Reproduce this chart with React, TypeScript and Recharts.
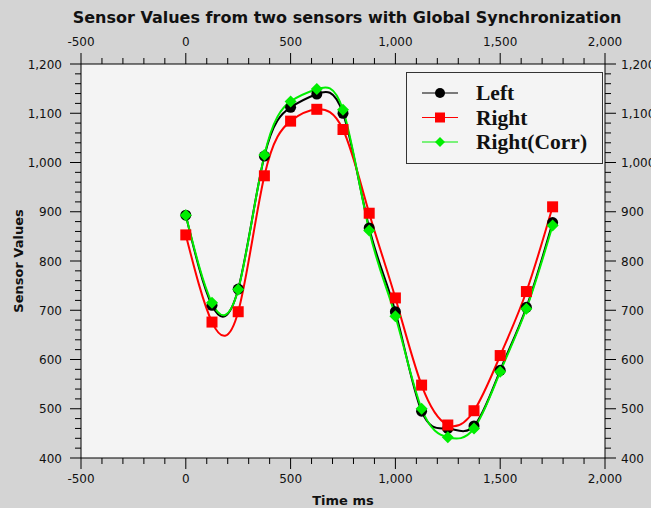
import React from 'react'
import { LineChart, Line, XAxis, YAxis, CartesianGrid, Legend, Label } from 'recharts'

// sample times (ms) and sensor readings
const times = [0, 125, 250, 375, 500, 625, 750, 875, 1000, 1125, 1250, 1375, 1500, 1625, 1750]
const leftValues = [893, 710, 743, 1013, 1112, 1139, 1100, 867, 697, 495, 460, 465, 578, 706, 878]
const rightValues = [853, 676, 697, 973, 1084, 1108, 1067, 897, 725, 548, 467, 496, 608, 738, 910]
const rightCorrValues = [893, 715, 742, 1015, 1124, 1149, 1107, 862, 688, 500, 442, 460, 575, 703, 872]

const xMajorTicks = [-500, 0, 500, 1000, 1500, 2000]
const yMajorTicks = [400, 500, 600, 700, 800, 900, 1000, 1100, 1200]

// minor ticks: 4 between each pair of majors
const withMinor = (majors: number[]) => {
  const out: number[] = []
  for (let i = 0; i < majors.length - 1; i++) {
    const step = (majors[i + 1] - majors[i]) / 5
    for (let k = 0; k < 5; k++) out.push(majors[i] + k * step)
  }
  out.push(majors[majors.length - 1])
  return out
}
const xTicks = withMinor(xMajorTicks)
const yTicks = withMinor(yMajorTicks)

const data = times.map((t, i) => ({
  t,
  left: leftValues[i],
  right: rightValues[i],
  corr: rightCorrValues[i],
}))

const BG = '#d4d4d4'
const PLOT_BG = '#f4f4f4'
const TICK_FONT = '"DejaVu Sans", sans-serif'

const fmt = (v: number) => v.toLocaleString('en-US')

const AxisTick = ({ x, y, payload, side }: any) => {
  const v = payload.value as number
  const major = side === 'top' || side === 'bottom' ? xMajorTicks.includes(v) : yMajorTicks.includes(v)
  const len = major ? 11 : 6
  let line, text = null
  const textProps = { fontSize: 12, fontFamily: TICK_FONT, fill: '#111' }
  if (side === 'bottom') {
    line = <line x1={x} x2={x} y1={y} y2={y + len} stroke="#000" />
    if (major) text = <text x={x} y={y + 25} textAnchor="middle" {...textProps}>{fmt(v)}</text>
  } else if (side === 'top') {
    line = <line x1={x} x2={x} y1={y} y2={y - len} stroke="#000" />
    if (major) text = <text x={x} y={y - 18} textAnchor="middle" {...textProps}>{fmt(v)}</text>
  } else if (side === 'left') {
    line = <line x1={x} x2={x - len} y1={y} y2={y} stroke="#000" />
    if (major) text = <text x={x - 19} y={y + 4.5} textAnchor="end" {...textProps}>{fmt(v)}</text>
  } else {
    line = <line x1={x} x2={x + len} y1={y} y2={y} stroke="#000" />
    if (major) text = <text x={x + 16} y={y + 4.5} textAnchor="start" {...textProps}>{fmt(v)}</text>
  }
  return <g>{line}{text}</g>
}

const CircleDot = ({ cx, cy, index }: any) => (
  <circle key={index} cx={cx} cy={cy} r={5.5} fill="#000" />
)
const SquareDot = ({ cx, cy, index }: any) => (
  <rect key={index} x={cx - 5.5} y={cy - 5.5} width={11} height={11} fill="#ff0000" />
)
const DiamondDot = ({ cx, cy, index }: any) => (
  <path key={index} d={`M${cx} ${cy - 6}L${cx + 6} ${cy}L${cx} ${cy + 6}L${cx - 6} ${cy}Z`} fill="#00ee00" />
)

const legendItems = [
  { name: 'Left', color: '#000', marker: 'circle' },
  { name: 'Right', color: '#ff0000', marker: 'square' },
  { name: 'Right(Corr)', color: '#00ee00', marker: 'diamond' },
]

const LegendBox = () => (
  <svg width={197} height={92} style={{ display: 'block' }}>
    <rect x={0.5} y={0.5} width={196} height={91} fill={PLOT_BG} stroke="#333" />
    {legendItems.map((it, i) => {
      const cy = 21 + i * 24.5
      const cx = 34
      let m
      if (it.marker === 'circle') m = <circle cx={cx} cy={cy} r={5} fill={it.color} />
      else if (it.marker === 'square') m = <rect x={cx - 5} y={cy - 5} width={10} height={10} fill={it.color} />
      else m = <path d={`M${cx} ${cy - 5}L${cx + 5} ${cy}L${cx} ${cy + 5}L${cx - 5} ${cy}Z`} fill={it.color} />
      return (
        <g key={it.name}>
          <line x1={16} x2={52} y1={cy} y2={cy} stroke={it.color} strokeWidth={1.2} />
          {m}
          <text x={70} y={cy + 7} fontFamily='"Liberation Serif", serif' fontWeight="bold" fontSize={21.5} fill="#111">
            {it.name}
          </text>
        </g>
      )
    })}
  </svg>
)

export default function App() {
  return (
    <div style={{ position: 'absolute', left: 0, top: 0, width: 651, height: 508, background: BG }}>
      <LineChart width={651} height={508} data={data} margin={{ top: 0, right: 0, bottom: 0, left: 0 }}>
        <CartesianGrid horizontal={false} vertical={false} fill={PLOT_BG} xAxisId="b" yAxisId="l" />
        <XAxis
          xAxisId="t" orientation="top" dataKey="t" type="number" domain={[-500, 2000]}
          ticks={xTicks} interval={0} height={64} tickSize={0} tickMargin={0} tickLine={false}
          axisLine={{ stroke: '#000' }} tick={<AxisTick side="top" />} allowDataOverflow
        >
          <Label
            content={() => (
              <text x={347} y={23} textAnchor="middle" fontFamily={TICK_FONT} fontWeight="bold" fontSize={16} fill="#111">
                Sensor Values from two sensors with Global Synchronization
              </text>
            )}
          />
        </XAxis>
        <XAxis
          xAxisId="b" orientation="bottom" dataKey="t" type="number" domain={[-500, 2000]}
          ticks={xTicks} interval={0} height={50} tickSize={0} tickMargin={0} tickLine={false}
          axisLine={{ stroke: '#000' }} tick={<AxisTick side="bottom" />} allowDataOverflow
        >
          <Label
            content={({ viewBox }: any) => (
              <text x={viewBox.x + viewBox.width / 2} y={viewBox.y + 47} textAnchor="middle" fontFamily={TICK_FONT} fontWeight="bold" fontSize={13} fill="#111">
                Time ms
              </text>
            )}
          />
        </XAxis>
        <YAxis
          yAxisId="l" orientation="left" type="number" domain={[400, 1200]}
          ticks={yTicks} interval={0} width={81} tickSize={0} tickMargin={0} tickLine={false}
          axisLine={{ stroke: '#000' }} tick={<AxisTick side="left" />} allowDataOverflow
        >
          <Label
            content={({ viewBox }: any) => {
              const cx = 18
              const cy = viewBox.y + viewBox.height / 2
              return (
                <text x={cx} y={cy} transform={`rotate(-90 ${cx} ${cy})`} textAnchor="middle" dominantBaseline="central"
                  fontFamily={TICK_FONT} fontWeight="bold" fontSize={13} fill="#111">
                  Sensor Values
                </text>
              )
            }}
          />
        </YAxis>
        <YAxis
          yAxisId="r" orientation="right" type="number" domain={[400, 1200]}
          ticks={yTicks} interval={0} width={46} tickSize={0} tickMargin={0} tickLine={false}
          axisLine={{ stroke: '#000' }} tick={<AxisTick side="right" />} allowDataOverflow
        />
        <Legend
          layout="vertical" align="center" verticalAlign="middle"
          content={<LegendBox />}
          wrapperStyle={{ position: 'absolute', left: 406, top: 72, width: 197, height: 92 }}
        />
        <Line xAxisId="b" yAxisId="l" type="natural" dataKey="left" name="Left" stroke="#000" strokeWidth={2}
          dot={<CircleDot />} activeDot={false} isAnimationActive={false} />
        <Line xAxisId="b" yAxisId="l" type="natural" dataKey="right" name="Right" stroke="#ff0000" strokeWidth={2}
          dot={<SquareDot />} activeDot={false} isAnimationActive={false} />
        <Line xAxisId="b" yAxisId="l" type="natural" dataKey="corr" name="Right(Corr)" stroke="#00ee00" strokeWidth={2}
          dot={<DiamondDot />} activeDot={false} isAnimationActive={false} />
      </LineChart>
    </div>
  )
}
